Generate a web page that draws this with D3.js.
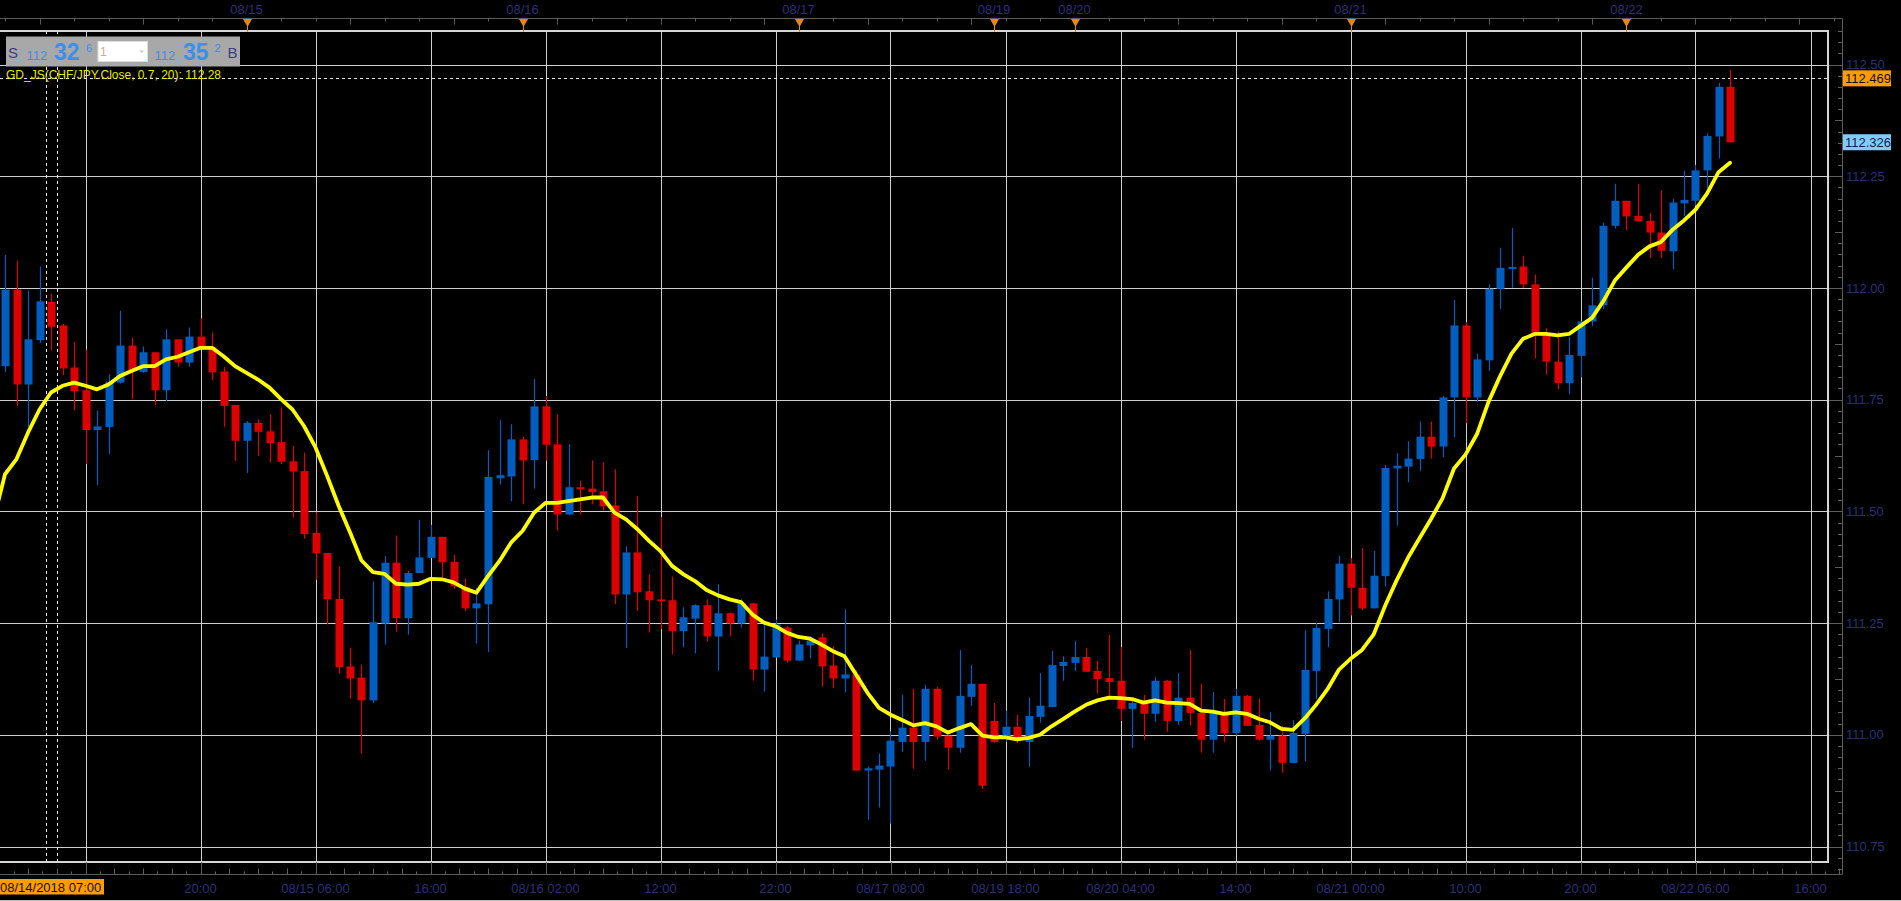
<!DOCTYPE html>
<html><head><meta charset="utf-8">
<script src="https://cdn.jsdelivr.net/npm/d3@7/dist/d3.min.js"></script>
<style>html,body{margin:0;padding:0;background:#000;overflow:hidden}svg{display:block}</style>
</head><body><svg id="c" width="1901" height="901"></svg>
<script>
// ---- data ----
const opens = [111.825,111.996,111.784,111.883,111.969,111.916,111.822,111.771,111.682,111.689,111.788,111.871,111.812,111.856,111.771,111.885,111.833,111.891,111.868,111.813,111.738,111.658,111.698,111.679,111.655,111.612,111.590,111.452,111.407,111.304,111.153,111.128,111.077,111.249,111.385,111.261,111.362,111.396,111.443,111.387,111.331,111.283,111.292,111.574,111.578,111.661,111.615,111.735,111.650,111.493,111.554,111.551,111.545,111.513,111.314,111.408,111.321,111.303,111.301,111.232,111.260,111.290,111.220,111.272,111.249,111.294,111.146,111.173,111.240,111.166,111.200,111.218,111.155,111.126,111.135,110.920,110.922,110.929,110.984,111.016,110.984,111.103,110.998,110.971,111.085,111.114,111.031,110.996,111.018,110.984,111.040,111.062,111.154,111.161,111.174,111.143,111.127,111.121,111.058,111.071,111.047,111.121,111.031,111.083,111.049,110.989,111.049,111.004,111.087,111.022,110.989,110.998,110.937,111.002,111.143,111.237,111.303,111.383,111.329,111.283,111.355,111.596,111.600,111.617,111.667,111.645,111.755,111.916,111.755,111.838,111.998,112.044,112.048,112.008,111.898,111.835,111.787,111.848,111.925,111.961,112.139,112.195,112.161,112.150,112.124,112.082,112.189,112.195,112.263,112.339,112.450];
const highs = [112.074,112.061,111.994,112.048,111.987,111.920,111.879,111.862,111.726,111.807,111.949,111.889,111.869,111.856,111.907,111.885,111.911,111.932,111.900,111.823,111.738,111.702,111.706,111.717,111.733,111.646,111.631,111.498,111.407,111.377,111.195,111.157,111.343,111.400,111.446,111.367,111.481,111.470,111.443,111.403,111.350,111.329,111.637,111.704,111.695,111.667,111.796,111.758,111.717,111.650,111.569,111.614,111.610,111.594,111.422,111.534,111.359,111.487,111.354,111.285,111.292,111.303,111.337,111.274,111.303,111.296,111.247,111.258,111.243,111.211,111.220,111.227,111.198,111.281,111.144,110.929,110.958,111.008,111.089,111.103,111.112,111.107,110.998,111.190,111.156,111.114,111.071,111.054,111.045,111.083,111.138,111.188,111.176,111.210,111.194,111.165,111.223,111.196,111.080,111.089,111.129,111.123,111.138,111.190,111.114,111.096,111.080,111.103,111.089,111.080,111.051,111.020,111.033,111.234,111.250,111.321,111.401,111.395,111.418,111.412,111.604,111.630,111.657,111.701,111.701,111.758,111.973,111.923,111.853,112.008,112.090,112.134,112.072,112.030,111.910,111.902,111.890,111.925,112.023,112.146,112.233,112.195,112.233,112.168,112.219,112.199,112.262,112.275,112.346,112.459,112.488];
const lows = [111.812,111.736,111.689,111.877,111.860,111.805,111.726,111.606,111.559,111.628,111.786,111.751,111.810,111.738,111.747,111.824,111.824,111.866,111.793,111.689,111.613,111.586,111.624,111.609,111.606,111.486,111.439,111.347,111.247,111.137,111.081,110.958,111.071,111.202,111.231,111.224,111.362,111.396,111.353,111.327,111.277,111.204,111.185,111.560,111.522,111.516,111.551,111.614,111.457,111.491,111.493,111.516,111.502,111.292,111.194,111.277,111.229,111.236,111.180,111.196,111.182,111.209,111.144,111.220,111.240,111.121,111.097,111.173,111.162,111.166,111.171,111.108,111.104,111.095,110.920,110.810,110.837,110.801,110.962,110.924,110.942,110.989,110.922,110.960,111.065,110.879,110.982,110.984,110.982,110.929,111.027,111.062,111.121,111.143,111.141,111.092,111.087,111.031,110.971,110.989,111.029,111.007,111.022,111.020,110.960,110.960,110.984,110.998,111.020,110.987,110.920,110.915,110.937,110.940,111.080,111.196,111.252,111.267,111.278,111.283,111.332,111.468,111.565,111.590,111.618,111.621,111.666,111.697,111.745,111.814,111.953,112.000,112.000,111.842,111.806,111.773,111.762,111.800,111.915,111.953,112.133,112.129,112.149,112.067,112.067,112.042,112.161,112.184,112.223,112.290,112.325];
const closes = [111.996,111.784,111.885,111.970,111.913,111.820,111.769,111.682,111.690,111.790,111.871,111.816,111.856,111.771,111.885,111.833,111.891,111.868,111.811,111.736,111.658,111.698,111.678,111.653,111.611,111.589,111.449,111.406,111.303,111.151,111.126,111.077,111.252,111.385,111.261,111.362,111.397,111.443,111.386,111.332,111.283,111.294,111.577,111.581,111.661,111.614,111.735,111.649,111.493,111.554,111.549,111.543,111.511,111.314,111.408,111.319,111.301,111.299,111.232,111.263,111.290,111.220,111.272,111.249,111.294,111.146,111.175,111.247,111.166,111.202,111.211,111.153,111.126,111.135,110.920,110.925,110.931,110.987,111.016,110.984,111.103,110.996,110.971,111.087,111.114,110.886,110.984,111.018,110.993,111.042,111.065,111.156,111.163,111.174,111.141,111.125,111.118,111.058,111.071,111.047,111.121,111.031,111.083,111.049,110.989,111.049,111.004,111.087,111.020,110.989,110.998,110.937,111.004,111.145,111.239,111.304,111.383,111.329,111.283,111.356,111.597,111.602,111.618,111.667,111.645,111.755,111.916,111.755,111.840,111.998,112.045,112.047,112.008,111.898,111.835,111.787,111.850,111.925,111.961,112.139,112.195,112.160,112.149,112.124,112.083,112.191,112.197,112.263,112.340,112.450,112.326];
// GD_JS indicator, lead-in is the point just left of the view
const gdLeadIn = 111.48;
const gdValues = [111.583,111.617,111.676,111.728,111.766,111.781,111.788,111.781,111.773,111.784,111.803,111.814,111.825,111.825,111.840,111.846,111.856,111.866,111.866,111.847,111.825,111.810,111.795,111.777,111.751,111.728,111.691,111.643,111.580,111.513,111.453,111.390,111.364,111.360,111.338,111.336,111.338,111.349,111.348,111.341,111.327,111.318,111.355,111.389,111.430,111.456,111.497,111.519,111.519,111.523,111.527,111.531,111.531,111.497,111.482,111.460,111.434,111.411,111.378,111.359,111.344,111.324,111.312,111.303,111.297,111.269,111.251,111.243,111.228,111.219,111.215,111.202,111.187,111.176,111.135,111.094,111.060,111.045,111.033,111.021,111.026,111.019,111.005,111.015,111.024,110.998,110.994,110.994,110.990,110.993,111.000,111.019,111.035,111.052,111.067,111.077,111.083,111.082,111.080,111.072,111.077,111.072,111.071,111.069,111.054,111.052,111.047,111.050,111.047,111.036,111.028,111.013,111.011,111.036,111.067,111.102,111.146,111.170,111.190,111.224,111.288,111.345,111.396,111.440,111.483,111.529,111.596,111.627,111.673,111.745,111.802,111.853,111.886,111.897,111.897,111.894,111.897,111.915,111.933,111.971,112.017,112.046,112.074,112.093,112.103,112.130,112.151,112.175,112.211,112.259,112.280];
// vertical grid (candle indices, every 10 h)
const gridIdx = [7,17,27,37,47,57,67,77,87,97,107,117,127,137,147,157];
// bottom axis labels (candle index -> text); the 10:00 one at index 7 is hidden under the crosshair label
const xTickIdx = [17,27,37,47,57,67,77,87,97,107,117,127,137,147,157];
const xTickLabels = ["20:00","08/15 06:00","16:00","08/16 02:00","12:00","22:00","08/17 08:00","08/19 18:00","08/20 04:00","14:00","08/21 00:00","10:00","20:00","08/22 06:00","16:00"];
// top day markers
const dayIdx = [21,45,69,86,93,117,141];
const dayLabels = ["08/15","08/16","08/17","08/19","08/20","08/21","08/22"];
// price axis
const yTicks = [110.75,111.00,111.25,111.50,111.75,112.00,112.25,112.50];
const yTickLabels = ["110.75","111.00","111.25","111.50","111.75","112.00","112.25","112.50"];
const askPrice = 112.469, lastPrice = 112.326;
const crossIdx = 4, crossLabel = "08/14/2018 07:00";
const legendText = "GD_JS(CHF/JPY.Close, 0.7, 20): 112.28";

// ---- layout ----
const W = 1901, H = 901;
const plotL = 0, plotR = 1828, plotT = 31, plotB = 862;
const axisX = 1842, axisTopY = 18.5, axisBotY = 874.5;
const navy = "#2e2e74", gridC = "#cfcfcf", axisC = "#5c5c5c";
const blue = "#005ec0", red = "#dc0000";
const font = "'Liberation Sans', Arial, sans-serif";

const svg = d3.select("#c");
svg.append("rect").attr("width", W).attr("height", H).attr("fill", "#000");

const x = d3.scaleLinear().domain([0, 150]).range([5, 1730]);
const y = d3.scaleLinear().domain([110.75, 112.5]).range([846.5, 64.5]);
const N = closes.length;

svg.append("defs").append("clipPath").attr("id", "plot")
  .append("rect").attr("x", plotL).attr("y", plotT).attr("width", plotR - plotL).attr("height", plotB - plotT);

// grid
const g = svg.append("g").attr("clip-path", "url(#plot)");
g.selectAll("line.vg").data(gridIdx).join("line")
  .attr("x1", d => Math.round(x(d)) + 0.5).attr("x2", d => Math.round(x(d)) + 0.5)
  .attr("y1", plotT).attr("y2", plotB).attr("stroke", gridC).attr("stroke-width", 1);
g.selectAll("line.hg").data(yTicks).join("line")
  .attr("x1", plotL).attr("x2", plotR).attr("y1", d => Math.round(y(d)) + 0.5).attr("y2", d => Math.round(y(d)) + 0.5)
  .attr("stroke", gridC).attr("stroke-width", 1);

// crosshair dashed verticals
[x(crossIdx) - 5.5, x(crossIdx) + 5.5].forEach(xx => {
  g.append("line").attr("x1", Math.round(xx) + 0.5).attr("x2", Math.round(xx) + 0.5)
    .attr("y1", plotT).attr("y2", plotB).attr("stroke", "#e8e8e8").attr("stroke-dasharray", "3,3");
});
// ask dashed line
g.append("line").attr("x1", plotL).attr("x2", plotR)
  .attr("y1", Math.round(y(askPrice)) + 0.5).attr("y2", Math.round(y(askPrice)) + 0.5)
  .attr("stroke", "#e8e8e8").attr("stroke-dasharray", "3,3");

// candles
const idx = d3.range(N);
const cg = g.append("g");
cg.selectAll("line.w").data(idx).join("line")
  .attr("x1", i => Math.round(x(i)) + 0.5).attr("x2", i => Math.round(x(i)) + 0.5)
  .attr("y1", i => y(highs[i])).attr("y2", i => y(lows[i]))
  .attr("stroke", i => closes[i] >= opens[i] ? blue : red).attr("stroke-width", 1.2);
cg.selectAll("rect.b").data(idx).join("rect")
  .attr("x", i => Math.round(x(i)) - 3.5)
  .attr("width", 8)
  .attr("y", i => Math.min(y(opens[i]), y(closes[i])))
  .attr("height", i => Math.max(2, Math.abs(y(opens[i]) - y(closes[i]))))
  .attr("fill", i => closes[i] >= opens[i] ? blue : red);

// GD_JS line
const gdPts = [[-1, gdLeadIn]].concat(gdValues.map((v, i) => [i, v]));
g.append("path").datum(gdPts)
  .attr("d", d3.line().x(d => x(d[0])).y(d => y(d[1])))
  .attr("fill", "none").attr("stroke", "#ffff00").attr("stroke-width", 3.8)
  .attr("stroke-linejoin", "round").attr("stroke-linecap", "round");

// plot frame
svg.append("path").attr("d", `M${plotL - 2},${plotT}H${plotR}V${plotB}H${plotL - 2}`)
  .attr("fill", "none").attr("stroke", "#d6d6d6").attr("stroke-width", 2);

// axes lines
svg.append("path").attr("d", `M0,${axisTopY}H${axisX + 0.5}V${axisBotY}H0`)
  .attr("fill", "none").attr("stroke", axisC).attr("stroke-width", 1);

// right axis ticks
const yMinor = d3.range(Math.round(110.70 / 0.025), Math.round(112.575 / 0.025) + 1).map(k => k * 0.025);
svg.selectAll("line.yt").data(yMinor.filter(v => y(v) > axisTopY + 2 && y(v) < axisBotY - 2)).join("line")
  .attr("x1", v => {
    const k = Math.round(v / 0.025);
    if (k % 10 === 0) return plotR + 1;
    if (k % 5 === 0) return axisX - 7;
    return axisX - 4;
  })
  .attr("x2", axisX).attr("y1", v => Math.round(y(v)) + 0.5).attr("y2", v => Math.round(y(v)) + 0.5)
  .attr("stroke", axisC);
svg.selectAll("text.yl").data(yTicks).join("text")
  .attr("x", axisX + 4).attr("y", d => y(d)).attr("dy", "0.36em")
  .attr("fill", navy).attr("font-family", font).attr("font-size", 13)
  .text((d, i) => yTickLabels[i]);

// bottom axis ticks (8 per 10 candles)
const step = (x(10) - x(0)) / 8;
const bt = d3.range(-6, 140).map(k => ({k, xx: x(7) + k * step})).filter(d => d.xx >= 0 && d.xx < axisX);
svg.selectAll("line.bt").data(bt).join("line")
  .attr("x1", d => Math.round(d.xx) + 0.5).attr("x2", d => Math.round(d.xx) + 0.5)
  .attr("y1", d => ((d.k % 8) + 8) % 8 === 0 ? plotB : (((d.k % 2) + 2) % 2 === 0 ? axisBotY - 6 : axisBotY - 3))
  .attr("y2", axisBotY).attr("stroke", axisC);
svg.selectAll("text.xl").data(xTickIdx).join("text")
  .attr("x", d => x(d)).attr("y", 888).attr("dy", "0.36em").attr("text-anchor", "middle")
  .attr("fill", navy).attr("font-family", font).attr("font-size", 13)
  .text((d, i) => xTickLabels[i]);

// top axis ticks
const tt = d3.range(0, 160, 3).filter(i => x(i) < axisX - 2);
svg.selectAll("line.tt").data(tt).join("line")
  .attr("x1", i => Math.round(x(i)) + 0.5).attr("x2", i => Math.round(x(i)) + 0.5)
  .attr("y1", axisTopY).attr("y2", i => (i % 9 === 3 ? axisTopY + 6 : axisTopY + 3)).attr("stroke", axisC);
// day markers
svg.selectAll("text.dl").data(dayIdx).join("text")
  .attr("x", d => x(d)).attr("y", 9).attr("dy", "0.36em").attr("text-anchor", "middle")
  .attr("fill", navy).attr("font-family", font).attr("font-size", 13)
  .text((d, i) => dayLabels[i]);
svg.selectAll("path.tri").data(dayIdx).join("path")
  .attr("d", d => { const c = Math.round(x(d)) + 0.5; return `M${c - 4.5},19H${c + 4.5}L${c},27Z`; })
  .attr("fill", "#e88a00");
svg.selectAll("line.trl").data(dayIdx).join("line")
  .attr("x1", d => Math.round(x(d)) + 0.5).attr("x2", d => Math.round(x(d)) + 0.5)
  .attr("y1", 26).attr("y2", 32).attr("stroke", "#e88a00");

// price tags
function tag(v, bg, fg) {
  const yy = y(v);
  svg.append("rect").attr("x", 1843).attr("y", yy - 8).attr("width", 48).attr("height", 16).attr("fill", bg);
  svg.append("text").attr("x", 1845).attr("y", yy).attr("dy", "0.36em")
    .attr("fill", fg).attr("font-family", font).attr("font-size", 13).text(v.toFixed(3));
}
tag(askPrice, "#ff9c00", "#111");
tag(lastPrice, "#80ccf8", "#1a1a55");

// crosshair time label
svg.append("rect").attr("x", -2).attr("y", 879).attr("width", 106).attr("height", 15.5).attr("fill", "#ff9c00");
svg.append("text").attr("x", 0).attr("y", 887).attr("dy", "0.36em").attr("fill", "#111")
  .attr("font-family", font).attr("font-size", 13).text(crossLabel);

// header panel
const hp = svg.append("g");
hp.append("rect").attr("x", 6).attr("y", 36.5).attr("width", 234).attr("height", 30).attr("fill", "#a8a8a8");
const txt = (xx, yy, s, size, col, weight) => hp.append("text").attr("x", xx).attr("y", yy)
  .attr("fill", col).attr("font-family", font).attr("font-size", size).attr("font-weight", weight || "normal").text(s);
txt(8, 57.5, "S", 15, "#3c3c82");
txt(26.5, 60, "112", 13, "#3d8fe8");
txt(54, 60, "32", 23, "#3d8fe8", "bold");
txt(86, 51.5, "6", 11, "#3d8fe8");
hp.append("rect").attr("x", 98).attr("y", 41.5).attr("width", 49.5).attr("height", 20).attr("fill", "#fff").attr("stroke", "#ddd");
txt(100, 56, "1", 12, "#c8a8a8");
hp.append("path").attr("d", "M139.5,50.5H144L141.75,53Z").attr("fill", "#c8c8c8");
txt(154.5, 60, "112", 13, "#3d8fe8");
txt(183, 60, "35", 23, "#3d8fe8", "bold");
txt(214.5, 51.5, "2", 11, "#3d8fe8");
txt(227.5, 57.5, "B", 15, "#3c3c82");

// legend
svg.append("text").attr("x", 6).attr("y", 74.5).attr("dy", "0.36em").attr("fill", "#e8e800")
  .attr("font-family", font).attr("font-size", 12).text(legendText);

// bottom border line
svg.append("line").attr("x1", 0).attr("x2", W).attr("y1", 900.5).attr("y2", 900.5).attr("stroke", "#bbb");
</script></body></html>
